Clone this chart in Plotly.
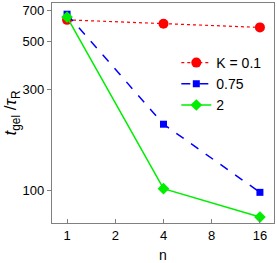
import plotly.graph_objects as go

n = [1, 4, 16]
k01 = [635, 609, 585]
k075 = [675, 205, 98]
k2 = [654, 102, 75]
x_ticks = [1, 2, 4, 8, 16]
y_ticks = [100, 300, 500, 700]

fig = go.Figure()
fig.add_trace(go.Scatter(x=n, y=k01, name="K = 0.1", mode="lines+markers",
                         line=dict(color="#ff0000", width=1.2, dash="dot"),
                         marker=dict(symbol="circle", size=10, color="#ff0000")))
fig.add_trace(go.Scatter(x=n, y=k075, name="0.75", mode="lines+markers",
                         line=dict(color="#0000ff", width=1.5, dash="dash"),
                         marker=dict(symbol="square", size=7, color="#0000ff")))
fig.add_trace(go.Scatter(x=n, y=k2, name="2", mode="lines+markers",
                         line=dict(color="#00ee00", width=1.5),
                         marker=dict(symbol="diamond", size=9, color="#00ee00")))

axis_common = dict(showline=True, linecolor="#808080", linewidth=1.2, mirror=True,
                   showgrid=False, zeroline=False, ticklen=4, tickcolor="#808080",
                   tickfont=dict(family="Liberation Sans, Arial", size=13, color="black"))

fig.update_layout(
    width=277, height=263,
    margin=dict(l=52, r=3, t=2, b=38),
    paper_bgcolor="white", plot_bgcolor="white",
    font=dict(family="Liberation Sans, Arial", color="black"),
    showlegend=True,
    legend=dict(x=0.56, y=0.8, xanchor="left", yanchor="top",
                bgcolor="rgba(0,0,0,0)", font=dict(size=14),
                itemwidth=30, tracegroupgap=0),
    xaxis=dict(type="log", range=[-0.094, 1.292], tickvals=x_ticks,
               ticktext=[str(v) for v in x_ticks], ticks="inside",
               title=dict(text="n", font=dict(size=14), standoff=8), **axis_common),
    yaxis=dict(type="log", range=[1.847, 2.882], tickvals=y_ticks,
               ticktext=[str(v) for v in y_ticks], ticks="outside",
               title=dict(text="<i>t</i><sub>gel</sub> /<i>τ</i><sub>R</sub>",
                          font=dict(size=17), standoff=0), **axis_common),
)

fig.write_html("out.html", config={"displayModeBar": False},
               post_script="document.body.style.margin='0';document.body.style.overflow='hidden';")
